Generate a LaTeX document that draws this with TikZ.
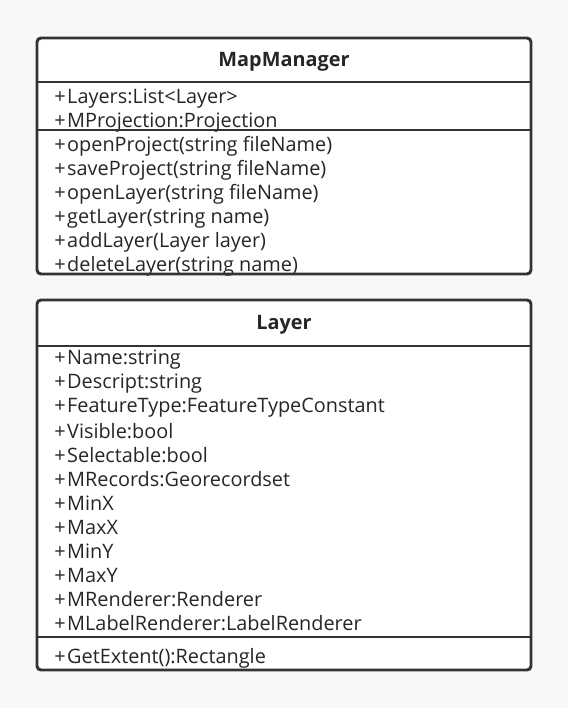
\documentclass[tikz,border=0pt]{standalone}
\usepackage{fontspec}
\setmainfont{Open Sans}
\definecolor{bg}{HTML}{F8F8F8}
\definecolor{ln}{HTML}{333333}
\tikzset{
  box/.style={draw=ln, line width=2.2pt, fill=white, rounded corners=3pt},
  sep/.style={draw=ln, line width=1.6pt},
  item/.style={anchor=west, inner sep=0pt, font=\fontsize{14.9}{16}\selectfont, text=black!85},
  title/.style={inner sep=0pt, font=\fontsize{14.9}{16}\selectfont\bfseries, text=black!85}
}
\newcommand{\pl}{+\hspace{0.08em}}
\begin{document}
\begin{tikzpicture}[x=0.75pt,y=-0.75pt]
\fill[bg] (0,0) rectangle (568,708);
\useasboundingbox (0,0) rectangle (568,708);
% MapManager
\path[fill=white] (37,38) rectangle (531,274);
\node[title] (t1) at (284,62) {MapManager};
\foreach \t [count=\i from 0] in {Layers:List<Layer>,MProjection:Projection,openProject(string fileName),saveProject(string fileName),openLayer(string fileName),getLayer(string name),addLayer(Layer layer),deleteLayer(string name)}{
  \node[item] (m\i) at (54,98.5+24*\i) {\pl\t};
}
\draw[sep] (37,82) -- (531,82);
\draw[sep] (37,130) -- (531,130);
\draw[box,fill=none] (37,38) rectangle (531,274);
% Layer
\path[fill=white] (37,300) rectangle (531,670);
\node[title] (t2) at (284,325) {Layer};
\foreach \t [count=\i from 0] in {Name:string,Descript:string,FeatureType:FeatureTypeConstant,Visible:bool,Selectable:bool,MRecords:Georecordset,MinX,MaxX,MinY,MaxY,MRenderer:Renderer,MLabelRenderer:LabelRenderer}{
  \node[item] (l\i) at (54,359.5+24*\i) {\pl\t};
}
\node[item] (g0) at (54,658.5) {\pl GetExtent():Rectangle};
\draw[sep] (37,346) -- (531,346);
\draw[sep] (37,637) -- (531,637);
\draw[box,fill=none] (37,300) rectangle (531,670);
\end{tikzpicture}
\end{document}
